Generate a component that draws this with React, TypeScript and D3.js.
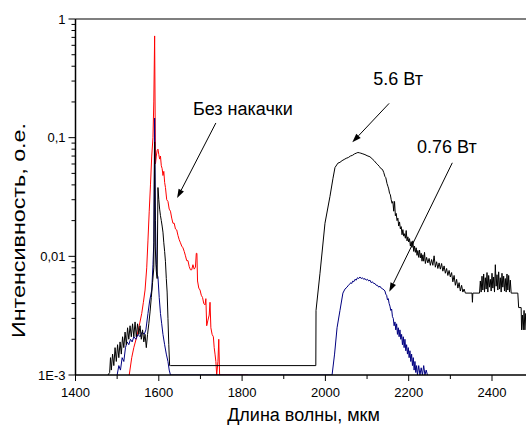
import React from "react";
import * as d3 from "d3";

type P = [number, number];

// Black curve: 5.6 W pump
const pump56: P[] = [
  [1478, 0.001], [1482, 0.00105], [1484, 0.0014], [1486, 0.0011], [1489, 0.0015], [1492, 0.0012],
  [1495, 0.0017], [1498, 0.0013], [1501, 0.0018], [1504, 0.0014], [1507, 0.0019], [1510, 0.0015],
  [1513, 0.0021], [1516, 0.0017], [1519, 0.0023], [1522, 0.0018], [1525, 0.0025], [1528, 0.002],
  [1531, 0.0026], [1534, 0.0021], [1537, 0.0027], [1540, 0.0021], [1543, 0.0028], [1546, 0.0021],
  [1549, 0.0027], [1552, 0.0022], [1555, 0.0026], [1558, 0.002], [1561, 0.0024], [1564, 0.0019],
  [1567, 0.0022], [1570, 0.0017], [1573, 0.0022], [1576, 0.0027], [1579, 0.0034], [1582, 0.0045],
  [1585, 0.006], [1588, 0.008], [1590, 0.092], [1591.5, 0.012], [1594, 0.0075], [1596, 0.0065],
  [1598, 0.038], [1600, 0.03], [1602, 0.025], [1604, 0.022], [1606, 0.02], [1608, 0.018],
  [1610, 0.016], [1612, 0.013], [1614, 0.011], [1616, 0.009], [1618, 0.0065], [1620, 0.005],
  [1622, 0.003], [1624, 0.0018], [1626, 0.0012], [1628, 0.0012], [1977, 0.0012], [1977.5, 0.0035],
  [1987, 0.0072], [1999, 0.019], [2011, 0.032], [2018, 0.045], [2023, 0.056], [2030, 0.061],
  [2035, 0.062], [2040, 0.064], [2045, 0.0655], [2050, 0.067], [2055, 0.068], [2060, 0.07],
  [2065, 0.071], [2070, 0.073], [2074, 0.074], [2078, 0.075], [2082, 0.0745], [2085, 0.074],
  [2090, 0.073], [2095, 0.072], [2100, 0.0705], [2107, 0.069], [2112, 0.0665], [2117, 0.064],
  [2122, 0.061], [2126, 0.059], [2130, 0.057], [2133, 0.055], [2137, 0.054], [2140, 0.051],
  [2143, 0.047], [2145, 0.046], [2148, 0.041], [2150, 0.039], [2152, 0.037], [2154, 0.034],
  [2156, 0.033], [2158, 0.03], [2160, 0.028], [2162, 0.029], [2164, 0.024], [2166, 0.029],
  [2168, 0.022], [2170, 0.023], [2172, 0.02], [2174, 0.021], [2176, 0.018], [2178, 0.0195],
  [2180, 0.017], [2182, 0.0178], [2184, 0.0152], [2186, 0.0168], [2188, 0.0148], [2190, 0.0155],
  [2192, 0.0142], [2194, 0.0165], [2196, 0.0135], [2198, 0.0146], [2200, 0.0132], [2202, 0.0141],
  [2204, 0.0122], [2206, 0.0133], [2208, 0.0119], [2210, 0.0135], [2212, 0.011], [2214, 0.0122],
  [2216, 0.0108], [2218, 0.0118], [2220, 0.0102], [2222, 0.0112], [2224, 0.0098], [2226, 0.0113],
  [2228, 0.0097], [2230, 0.0106], [2232, 0.0091], [2234, 0.0103], [2236, 0.0091], [2238, 0.0108],
  [2240, 0.0087], [2243, 0.0098], [2246, 0.0088], [2249, 0.0096], [2252, 0.0084], [2255, 0.0094],
  [2258, 0.0084], [2261, 0.0101], [2264, 0.0081], [2267, 0.009], [2270, 0.0079], [2273, 0.0088],
  [2276, 0.0078], [2279, 0.0087], [2282, 0.0075], [2285, 0.0083], [2288, 0.0072], [2291, 0.0079],
  [2294, 0.0069], [2297, 0.0076], [2300, 0.0067], [2303, 0.0073], [2306, 0.0061], [2309, 0.0069],
  [2312, 0.0057], [2315, 0.0064], [2318, 0.0054], [2321, 0.006], [2324, 0.0051], [2327, 0.0057],
  [2330, 0.005], [2333, 0.0053], [2336, 0.0049], [2352, 0.0049], [2353, 0.0041], [2354, 0.0049],
  [2370, 0.0049], [2372, 0.0062], [2374, 0.005], [2376, 0.0068], [2378, 0.0052], [2380, 0.0071],
  [2382, 0.005], [2384, 0.0066], [2386, 0.0053], [2388, 0.0073], [2390, 0.005], [2392, 0.0069],
  [2394, 0.0055], [2396, 0.0064], [2398, 0.0051], [2400, 0.0072], [2402, 0.0054], [2404, 0.0067],
  [2406, 0.005], [2408, 0.0085], [2410, 0.0056], [2412, 0.007], [2414, 0.0052], [2416, 0.0074],
  [2418, 0.0053], [2420, 0.0066], [2422, 0.005], [2424, 0.0072], [2426, 0.0055], [2428, 0.0068],
  [2430, 0.0051], [2432, 0.0065], [2434, 0.005], [2436, 0.0071], [2438, 0.0052], [2440, 0.0069],
  [2442, 0.005], [2444, 0.0063], [2446, 0.0049], [2462, 0.0049], [2464, 0.0037], [2470, 0.0037],
  [2471, 0.0024], [2473, 0.0032], [2475, 0.0024], [2477, 0.0035], [2479, 0.0024], [2481, 0.0033],
  [2483, 0.0025], [2486, 0.0026],
];

// Blue curve: 0.76 W pump
const pump076: P[] = [
  [1500, 0.001], [1504, 0.0012], [1508, 0.0011], [1512, 0.0014], [1516, 0.0013], [1520, 0.0017],
  [1524, 0.0019], [1528, 0.0018], [1532, 0.002], [1536, 0.0019], [1540, 0.0021], [1545, 0.002],
  [1550, 0.0022], [1555, 0.0021], [1560, 0.0023], [1565, 0.0022], [1569, 0.0024], [1574, 0.0033],
  [1578, 0.0042], [1583, 0.0052], [1586, 0.0085], [1588, 0.013], [1590, 0.146], [1592, 0.02],
  [1594, 0.0085], [1596, 0.007], [1598, 0.0067], [1601, 0.0045], [1604, 0.0033], [1607, 0.0027],
  [1610, 0.0022], [1614, 0.0018], [1618, 0.0015], [1622, 0.0013], [1625, 0.0011], [1628, 0.001],
  [2016, 0.001], [2022, 0.0015], [2028, 0.0025], [2035, 0.0035], [2042, 0.0049], [2047, 0.0053],
  [2052, 0.0055], [2055, 0.0057], [2058, 0.0058], [2061, 0.006], [2063, 0.0059], [2066, 0.0062],
  [2068, 0.0061], [2071, 0.0064], [2074, 0.0063], [2077, 0.0066], [2080, 0.0065], [2083, 0.0067],
  [2086, 0.0065], [2089, 0.0066], [2092, 0.0064], [2095, 0.0065], [2098, 0.0063], [2101, 0.0064],
  [2104, 0.0062], [2107, 0.0063], [2110, 0.006], [2113, 0.0061], [2116, 0.0059], [2119, 0.0059],
  [2122, 0.0057], [2125, 0.0057], [2128, 0.0055], [2131, 0.0056], [2134, 0.0054], [2138, 0.0053],
  [2141, 0.0052], [2143, 0.0051], [2145, 0.0048], [2147, 0.0047], [2149, 0.0043], [2151, 0.0044],
  [2153, 0.004], [2155, 0.0038], [2157, 0.0035], [2159, 0.0036], [2161, 0.0031], [2163, 0.003],
  [2165, 0.0026], [2167, 0.0028], [2169, 0.0024], [2171, 0.0027], [2173, 0.0022], [2175, 0.0025],
  [2177, 0.0021], [2179, 0.0024], [2181, 0.002], [2183, 0.0022], [2185, 0.0018], [2187, 0.0021],
  [2189, 0.0017], [2191, 0.002], [2193, 0.0016], [2195, 0.0018], [2197, 0.0015], [2199, 0.0017],
  [2201, 0.0014], [2203, 0.0016], [2205, 0.0013], [2207, 0.0015], [2209, 0.0012], [2211, 0.0014],
  [2213, 0.0011], [2215, 0.0013], [2217, 0.00105], [2219, 0.0012], [2221, 0.001], [2224, 0.0012],
  [2227, 0.001], [2230, 0.00115], [2233, 0.001], [2236, 0.0012], [2239, 0.001], [2242, 0.0011],
  [2245, 0.001],
];

// Red curve: no pumping
const noPump: P[] = [
  [1529, 0.001], [1535, 0.0014], [1540, 0.0017], [1547, 0.0021], [1553, 0.0026], [1559, 0.0033],
  [1563, 0.0041], [1567, 0.0052], [1571, 0.008], [1574, 0.0137], [1577, 0.024], [1580, 0.04],
  [1583, 0.07], [1586, 0.1], [1588, 0.2], [1590, 0.72], [1592, 0.06], [1594, 0.07], [1596, 0.078],
  [1598, 0.08], [1600, 0.072], [1602, 0.066], [1604, 0.07], [1606, 0.058], [1608, 0.055],
  [1610, 0.048], [1612, 0.052], [1614, 0.042], [1616, 0.038], [1619, 0.03], [1622, 0.029],
  [1625, 0.025], [1628, 0.024], [1631, 0.021], [1634, 0.019], [1637, 0.019], [1640, 0.017],
  [1643, 0.0167], [1646, 0.015], [1649, 0.0138], [1652, 0.013], [1655, 0.0122], [1658, 0.0118],
  [1661, 0.011], [1664, 0.0101], [1667, 0.0092], [1670, 0.0092], [1673, 0.0082], [1676, 0.0077],
  [1679, 0.0077], [1682, 0.0085], [1685, 0.0078], [1688, 0.0081], [1690, 0.0106], [1691.5, 0.0106],
  [1693, 0.0062], [1696, 0.0054], [1699, 0.0052], [1702, 0.0047], [1705, 0.0045], [1708, 0.004],
  [1711, 0.0039], [1713, 0.0044], [1715, 0.0026], [1718, 0.0029], [1721, 0.0032], [1723, 0.0041],
  [1725, 0.0025], [1728, 0.0022], [1731, 0.0021], [1733, 0.0017], [1735, 0.0015], [1737, 0.0013],
  [1739, 0.001], [1742, 0.0013], [1744, 0.002], [1746, 0.001], [1749, 0.001], [1814, 0.001],
];

const xTicks = [1400, 1600, 1800, 2000, 2200, 2400];
const xMinorTicks = [1500, 1700, 1900, 2100, 2300];
const yTicks = [0.001, 0.01, 0.1, 1];
const yTickLabels = ["1E-3", "0,01", "0,1", "1"];

// annotations: label, text start point, arrow start, arrow tip (data coords)
const annotations = [
  { text: "Без накачки", tx: 1682, ty: 0.155, from: [1737, 0.133], to: [1644, 0.031] },
  { text: "5.6 Вт", tx: 2115, ty: 0.277, from: [2153, 0.1945], to: [2064.6, 0.0913] },
  { text: "0.76 Вт", tx: 2220, ty: 0.0738, from: [2304.7, 0.0614], to: [2153.4, 0.00503] },
];

const W = 526;
const H = 426;
const left = 75.5;
const top = 19;
const bottom = 375;

export default function App() {
  const x = d3.scaleLinear().domain([1400, 2500]).range([left, left + 1100 * 0.4165]);
  const y = d3.scaleLog().domain([0.001, 1]).range([bottom, top]).clamp(true);
  const line = d3
    .line<P>()
    .x((d) => x(d[0]))
    .y((d) => y(d[1]));

  const minorY: number[] = [];
  for (let e = -3; e < 0; e++) {
    for (let m = 2; m <= 9; m++) minorY.push(m * Math.pow(10, e));
  }
  const font = "'Liberation Sans', Arial, sans-serif";

  const arrow = (x1: number, y1: number, x2: number, y2: number, key: string) => {
    const ang = Math.atan2(y2 - y1, x2 - x1);
    const L = 9;
    const hw = 3;
    const bx = x2 - L * Math.cos(ang);
    const by = y2 - L * Math.sin(ang);
    const px = -Math.sin(ang) * hw;
    const py = Math.cos(ang) * hw;
    return (
      <g key={key}>
        <line x1={x1} y1={y1} x2={bx} y2={by} stroke="#000" strokeWidth={1} />
        <polygon points={`${x2},${y2} ${bx + px},${by + py} ${bx - px},${by - py}`} fill="#000" />
      </g>
    );
  };

  return (
    <svg
      width={W}
      height={H}
      style={{ position: "absolute", left: 0, top: 0, background: "#fff" }}
      fontFamily={font}
    >
      <defs>
        <clipPath id="plot">
          <rect x={left} y={top - 1} width={W - left + 20} height={bottom - top + 1} />
        </clipPath>
      </defs>
      <g clipPath="url(#plot)" fill="none" strokeWidth={1} strokeLinejoin="miter">
        <path d={line(noPump) || ""} stroke="#ff0000" />
        <path d={line(pump076) || ""} stroke="#000080" />
        <path d={line(pump56) || ""} stroke="#000" />
      </g>
      {/* frame */}
      <line x1={left} x2={W} y1={top} y2={top} stroke="#555" strokeWidth={1.5} />
      <line x1={left} x2={left} y1={top} y2={bottom} stroke="#000" strokeWidth={1.5} />
      <line x1={left} x2={W} y1={bottom} y2={bottom} stroke="#000" strokeWidth={1.5} />
      {/* y ticks */}
      {yTicks.map((t, i) => (
        <g key={"yt" + t}>
          <line x1={left - 7} x2={left} y1={y(t)} y2={y(t)} stroke="#000" strokeWidth={1} />
          <text x={65.5} y={y(t)} dy="0.35em" textAnchor="end" fontSize={13}>
            {yTickLabels[i]}
          </text>
        </g>
      ))}
      {minorY.map((t) => (
        <line key={"ym" + t} x1={left - 4} x2={left} y1={y(t)} y2={y(t)} stroke="#000" strokeWidth={1} />
      ))}
      {/* x ticks */}
      {xTicks.map((t) => (
        <g key={"xt" + t}>
          <line x1={x(t)} x2={x(t)} y1={bottom} y2={bottom + 6} stroke="#000" strokeWidth={1} />
          <text x={x(t)} y={397} textAnchor="middle" fontSize={13}>
            {t}
          </text>
        </g>
      ))}
      {xMinorTicks.map((t) => (
        <line key={"xm" + t} x1={x(t)} x2={x(t)} y1={bottom} y2={bottom + 4} stroke="#000" strokeWidth={1} />
      ))}
      {/* axis titles */}
      <text x={303.5} y={421} textAnchor="middle" fontSize={18}>
        Длина волны, мкм
      </text>
      <text
        transform="translate(25,230.5) rotate(-90)"
        textAnchor="middle"
        fontSize={18}
        textLength={215}
        lengthAdjust="spacingAndGlyphs"
      >
        Интенсивность, о.е.
      </text>
      {/* annotations */}
      {annotations.map((a) => (
        <g key={a.text}>
          <text x={x(a.tx)} y={y(a.ty)} fontSize={18}>
            {a.text}
          </text>
          {arrow(x(a.from[0]), y(a.from[1]), x(a.to[0]), y(a.to[1]), a.text + "arr")}
        </g>
      ))}
    </svg>
  );
}
